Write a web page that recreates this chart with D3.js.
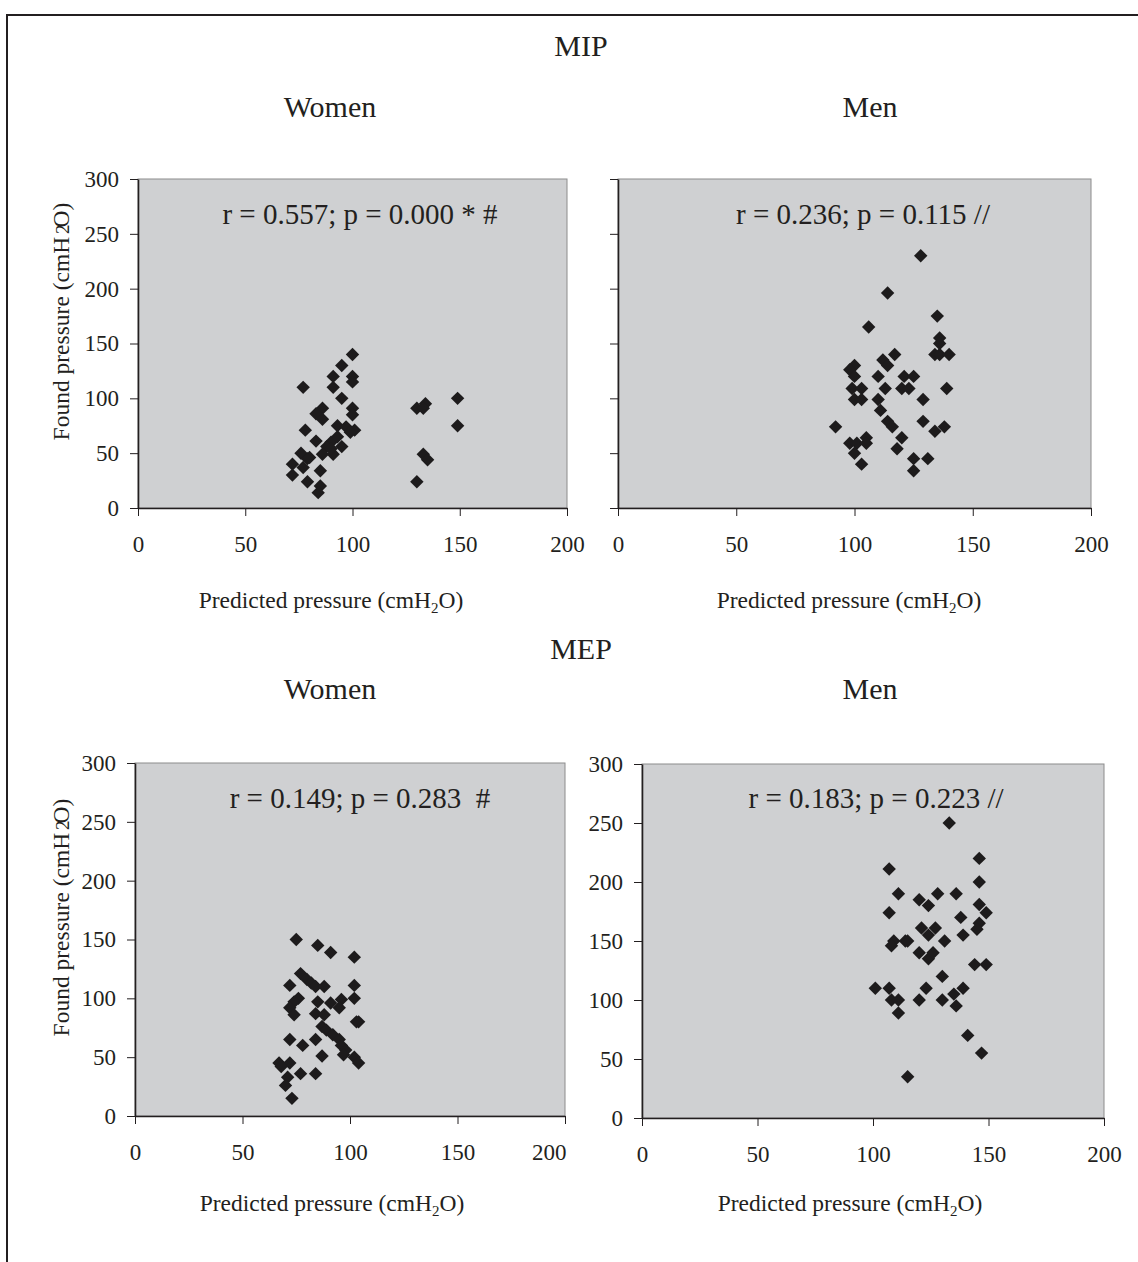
<!DOCTYPE html>
<html>
<head>
<meta charset="utf-8">
<title>MIP / MEP predicted vs found pressure</title>
<script src="https://d3js.org/d3.v7.min.js"></script>
<style>
	body { margin: 0; background: #fff; }
	svg text { font-family: "Liberation Serif", "Times New Roman", serif; fill: #231f20; }
	.axis path, .axis line { stroke: #231f20; }
	.axis text { font-size: 23px; }
</style>
</head>
<body>
<script>
// values
var xTicks = [0, 50, 100, 150, 200];
var yTicks = [0, 50, 100, 150, 200, 250, 300];

var mipWomenPred  = [100,95,91,100,100,77,91,95,100,100,86,83,86,78,93,97,101,83,90,93,95,88,86,91,76,79,72,77,72,85,79,85,84,130,134,133,149,149,133,135,130,90,80,99];
var mipWomenFound = [140,130,120,120,115,110,110,100,91,85,91,86,81,71,75,74,71,61,60,65,56,56,49,49,50,45,40,37,30,34,24,20,14,91,95,91,100,75,49,44,24,54,46,69];

var mipMenPred  = [128,114,135,106,136,136,134,136,140,117,112,114,100,98,100,110,121,125,99,103,113,120,123,139,100,103,110,129,111,114,116,129,134,138,92,98,101,105,105,120,118,100,103,125,131,125];
var mipMenFound = [230,196,175,165,155,150,140,140,140,140,135,130,130,126,120,120,120,120,109,109,109,109,109,109,99,99,99,99,89,79,74,79,70,74,74,59,59,64,59,64,54,50,40,45,45,34];

var mepWomenPred  = [75,85,91,102,77,80,82,84,88,72,102,76,74,85,91,96,102,95,72,74,84,88,104,103,87,89,92,72,78,84,95,96,98,97,102,104,87,67,72,77,84,71,70,73,68];
var mepWomenFound = [150,145,139,135,121,116,113,110,110,111,111,100,97,97,96,99,100,92,92,86,87,86,80,80,76,73,69,65,60,65,65,60,56,52,50,45,51,45,45,36,36,33,26,15,42];

var mepMenPred  = [133,146,107,146,111,120,124,128,136,146,149,107,138,146,145,121,127,124,139,109,108,114,115,131,120,124,126,144,149,130,101,107,123,139,108,111,120,130,135,111,136,141,147,115];
var mepMenFound = [250,220,211,200,190,185,180,190,190,181,174,174,170,165,160,161,161,155,155,150,146,150,150,150,140,135,140,130,130,120,110,110,110,110,100,100,100,100,105,89,95,70,55,35];

var width = 1138, height = 1262;

var svg = d3.select("body").append("svg")
	.attr("width", width)
	.attr("height", height);

// outer frame (left and top edges only are in view)
svg.append("path")
	.attr("d", "M7," + height + "V15H" + width)
	.attr("fill", "none")
	.attr("stroke", "#231f20")
	.attr("stroke-width", 2);

// section and panel headings
function heading(txt, x, y) {
	svg.append("text")
		.attr("x", x).attr("y", y)
		.attr("text-anchor", "middle")
		.style("font-size", "30px")
		.text(txt);
}
heading("MIP", 581, 56);
heading("Women", 330, 117);
heading("Men", 870, 117);
heading("MEP", 581, 659);
heading("Women", 330, 699);
heading("Men", 870, 699);

var diamond = d3.symbol().type(d3.symbolSquare).size(90);

function drawPanel(p) {
	var x = d3.scaleLinear().domain([0, 200]).range([p.left, p.right]);
	var y = d3.scaleLinear().domain([0, 300]).range([p.bottom, p.top]);

	var g = svg.append("g");

	g.append("rect")
		.attr("x", x(0)).attr("y", y(300))
		.attr("width", x(200) - x(0)).attr("height", y(0) - y(300))
		.attr("fill", "#cfd0d2")
		.attr("stroke", "#8c8c8c")
		.attr("stroke-width", 1);

	// axes
	var yAxis = d3.axisLeft(y).tickValues(yTicks).tickSize(8).tickSizeOuter(0).tickPadding(11);
	if (!p.yLabels) yAxis.tickFormat("");
	g.append("g").attr("class", "axis")
		.attr("transform", "translate(" + x(0) + ",0)")
		.call(yAxis)
		.call(function(a){ a.select(".domain").attr("stroke-width", 1.6); });

	var xAxis = d3.axisBottom(x).tickValues(xTicks).tickSize(8).tickSizeOuter(0).tickPadding(20);
	var xa = g.append("g").attr("class", "axis")
		.attr("transform", "translate(0," + y(0) + ")")
		.call(xAxis)
		.call(function(a){ a.select(".domain").attr("stroke-width", 1.6); });
	if (p.lastLabelEnd) {
		xa.selectAll(".tick text").filter(function(d){ return d === 200; })
			.attr("text-anchor", "end").attr("x", 1);
	}

	// points
	var pts = p.xs.map(function(v, i){ return [v, p.ys[i]]; });
	g.append("g").selectAll("path")
		.data(pts)
		.enter().append("path")
		.attr("d", diamond)
		.attr("transform", function(d){ return "translate(" + x(d[0]) + "," + y(d[1]) + ") rotate(45)"; })
		.attr("fill", "#1d1b1c");

	// correlation note
	g.append("text")
		.attr("x", p.noteX).attr("y", p.noteY)
		.attr("text-anchor", "middle")
		.attr("xml:space", "preserve")
		.style("font-size", "29px")
		.text(p.note);

	// axis titles
	var xt = g.append("text")
		.attr("x", p.xTitleX).attr("y", p.xTitleY)
		.attr("text-anchor", "middle")
		.style("font-size", "23.5px");
	xt.append("tspan").text("Predicted pressure (cmH");
	xt.append("tspan").attr("dy", 5).style("font-size", "15px").text("2");
	xt.append("tspan").attr("dy", -5).text("O)");

	if (p.yTitle) {
		var cy = (y(0) + y(300)) / 2 - 22;
		var yt = g.append("text")
			.attr("transform", "translate(69," + cy + ") rotate(-90)")
			.attr("text-anchor", "middle")
			.style("font-size", "23.5px");
		yt.append("tspan").text("Found pressure (cmH ");
		yt.append("tspan").attr("dx", -3).style("font-size", "19px").text("2");
		yt.append("tspan").attr("dx", -3).text("O)");
	}
}

drawPanel({ left: 138, right: 567, top: 179, bottom: 508,
	xs: mipWomenPred, ys: mipWomenFound,
	note: "r = 0.557; p = 0.000 * #", noteX: 360, noteY: 224,
	yLabels: true, yTitle: true, xTitleX: 331, xTitleY: 608 });

drawPanel({ left: 618, right: 1091, top: 179, bottom: 508,
	xs: mipMenPred, ys: mipMenFound,
	note: "r = 0.236; p = 0.115 //", noteX: 863, noteY: 224,
	yLabels: false, yTitle: false, xTitleX: 849, xTitleY: 608 });

drawPanel({ left: 135, right: 565, top: 763, bottom: 1116,
	xs: mepWomenPred, ys: mepWomenFound,
	note: "r = 0.149; p = 0.283  #", noteX: 360, noteY: 808,
	yLabels: true, yTitle: true, lastLabelEnd: true, xTitleX: 332, xTitleY: 1211 });

drawPanel({ left: 642, right: 1104, top: 764, bottom: 1118,
	xs: mepMenPred, ys: mepMenFound,
	note: "r = 0.183; p = 0.223 //", noteX: 876, noteY: 808,
	yLabels: true, yTitle: false, xTitleX: 850, xTitleY: 1211 });
</script>
</body>
</html>
